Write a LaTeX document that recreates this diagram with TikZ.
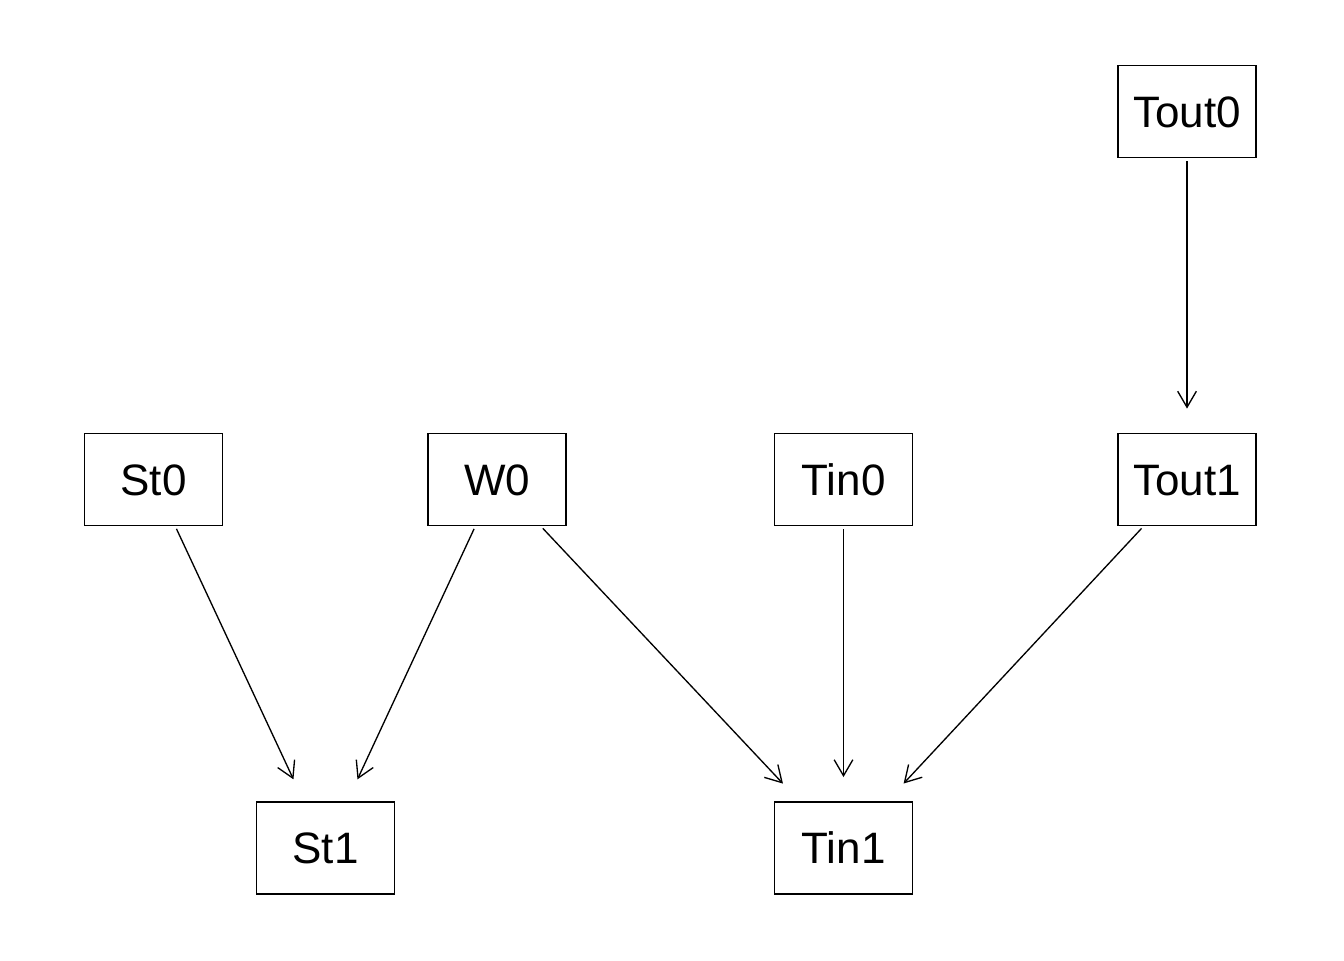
\documentclass[tikz,border=0pt]{standalone}
\usepackage{fontspec}
\setmainfont{Liberation Sans}
\usepackage{tikz}
\usetikzlibrary{arrows.meta}
\usetikzlibrary{positioning}
\tikzstyle{arrow} = [line width=1pt,-{Straight Barb[length=12pt,width=14pt]},shorten <=2pt,shorten >=18pt]
\tikzstyle{var} = [
    rectangle, minimum width=103.5pt, minimum height=69pt, text centered,
    text height=23.6pt, text depth=0pt, inner sep=0pt,
    line width=1.4pt, draw=black, font=\fontsize{33}{39}\selectfont]

\begin{document}
\begin{tikzpicture}[x=0.75pt,y=-0.75pt]
\useasboundingbox (0,0) rectangle (1344,960);
\node (tout0) [var] at (1187,111.5) {Tout0};

\node (st0)   [var] at (153.5,479.5) {St0};
\node (w0)    [var] at (497,479.5)   {W0};
\node (tin0)  [var] at (843.5,479.5) {Tin0};
\node (tout1) [var] at (1187,479.5)  {Tout1};

\node (st1)   [var] at (325.5,848)   {St1};
\node (tin1)  [var] at (843.5,848)   {Tin1};

\draw [arrow] (tout0) -- (tout1);
\draw [arrow] (st0) -- (st1);
\draw [arrow] (w0) -- (st1);
\draw [arrow] (w0) -- (tin1);
\draw [arrow] (tin0) -- (tin1);
\draw [arrow] (tout1) -- (tin1);
\end{tikzpicture}
\end{document}
